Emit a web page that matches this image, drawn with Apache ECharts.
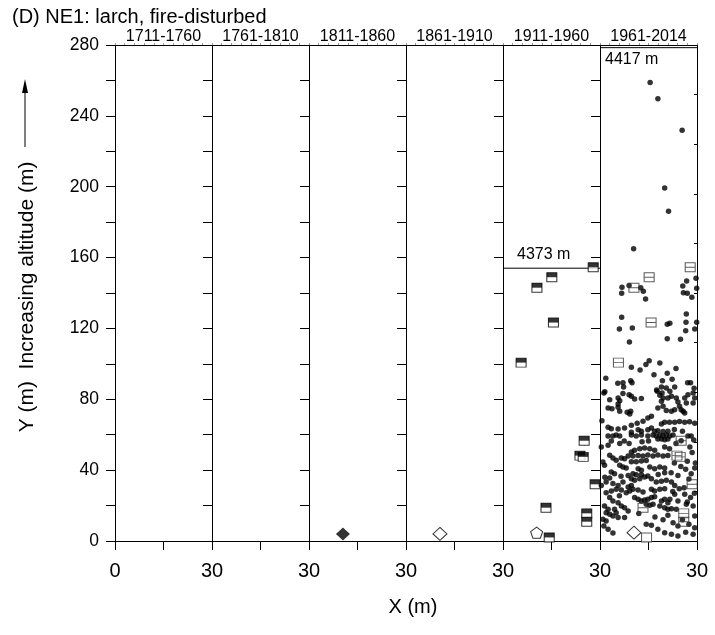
<!DOCTYPE html>
<html><head><meta charset="utf-8">
<script src="https://cdn.jsdelivr.net/npm/echarts@6/dist/echarts.min.js"></script>
<style>html,body{margin:0;padding:0;background:#fff}#c{width:715px;height:635px}</style>
</head><body><div id="c"></div>
<script>
// ---------- data ----------
const periods = ['1711-1760','1761-1810','1811-1860','1861-1910','1911-1960','1961-2014'];
const yTickValues = [0,40,80,120,160,200,240,280];
// 1811-1860
const p3FilledDiamond = [[10.5,4]];
// 1861-1910
const p4OpenDiamond = [[10.5,4]];
// 1911-1960
const p5HalfSquares = [[27.9,154.5],[15.1,148.9],[10.5,143],[15.6,123.3],[5.6,100.7],[25.1,56.6],[23.8,48.2],[24.8,47.5],[28.5,32],[13.3,18.8],[25.9,15.6],[25.9,10.9],[14.3,2]];
const p5Pentagon = [[10.4,4.7]];
const p5Treeline = [[0,154],[30,154]];
const p5TreelineLabel = '4373 m';
// 1961-2014
const p6LinedSquares = [[27.9,154.5],[15.2,148.9],[10.5,143],[15.8,123.3],[5.7,100.7],[25.1,56.6],[23.8,48.2],[24.8,47.5],[28.5,32],[13.3,18.8],[25.9,15.6],[25.9,10.9]];
const p6OpenSquare = [[14.4,2]];
const p6OpenDiamond = [[10.5,4.7]];
const p6Treeline = [[0,278.5],[30,278.5]];
const p6TreelineLabel = '4417 m';
const p6Dots = [
[15.5,258.8],[17.9,249.6],[25.4,231.9],[20.0,199.3],[21.2,186.2],[10.4,165],
[6.8,143.3],[6.7,139.9],[9.0,144.2],[12.6,143],[13.4,141],[14.1,136.6],
[25.6,144],[26.8,146.8],[25.8,140.2],[27.0,139.9],[28.4,137.6],[29.7,148.3],[29.9,142.7],
[6.7,126.3],[6.0,119.7],[10.0,120.3],[9.1,112.4],[20.8,122.3],[21.6,122.9],[20.8,114.2],[24.9,113.9],
[26.7,128.2],[26.6,123.5],[26.5,118.7],[29.3,119.7],[29.9,123.5],
[9.7,98.1],[12.4,96.6],[14.2,99.6],[15.2,101.8],[18.5,100.5],[16.7,93.9],[20.8,94.7],[23.5,97.4],[19.3,90.5],[22.3,91.3],
[1.8,91.9],[5.5,89],[7.1,89.4],[7.3,87],[9.5,90.5],[9.9,89.4],[27.1,89.4],[28.0,89.4],[29.1,86.2],[1.5,84.3],[23.1,87],[19.0,87],[17.5,85.3],
[1.2,83.6],[7.1,83.2],[9.0,82.6],[9.7,81.7],[10.7,80.2],[12.8,80.4],[5.6,80.7],[6.1,79.2],[5.6,77.4],[3.0,79.8],[2.5,75.1],[3.7,74.7],[5.6,75.5],[6.1,73.2],[8.4,72.7],[9.5,73.2],[9.2,71.7],[15.9,70.4],[14.8,69.5],[13.3,67.6],[11.5,66.5],[9.7,65.3],[7.6,63.8],[5.6,63.2],[2.5,64.2],[3.5,63.4],[0.6,67.9],
[17.7,84.5],[18.5,82.3],[19.2,83.6],[20.5,86.4],[21.6,84.5],[22.1,81.7],[21.0,80.7],[19.5,80.7],[19.0,78.9],[23.6,80.7],[24.1,78.5],[24.6,76.1],[25.1,74.1],[26.2,80.7],[26.7,77.9],[27.2,82.6],[28.8,83.6],[29.3,80.7],[28.8,77.9],[23.1,74.1],[22.1,73.2],[20.5,73.6],[19.5,76.1],[17.9,75.1],[25.7,73.2],[26.2,72.3],
[20,67],[21.5,67],[23.1,67],[24.6,67.5],[26.2,67],[27.7,67.3],[29.3,66.5],[19,66],[15.9,63.8],[14.8,62.8],[12.8,61.9],[11.8,62.8],[9.7,61.4],[16.9,62],[17.9,62.3],[19.5,61.8],[21,62],
[2.5,59.3],[4,59.3],[5,59.8],[6.1,59.3],[9.7,59.8],[11.2,59.3],[12.8,59.8],[14.8,59.3],[16.4,59.8],[17.4,59.3],[18.5,59.8],[19.5,59.3],[20.5,59.8],[21.6,59.3],[22.6,59.8],[27.2,59.3],
[17.9,57.6],[19,57.6],[20,57.2],[21,57.6],[0.4,53],[2.5,54],[6.1,55],[28.2,59.3],[25.1,56.6],
[3,48.4],[4,46.9],[5,45.6],[6.6,46.9],[7.6,46.5],
[9.7,50.3],[10.7,51.2],[12.3,52.1],[13.8,52.5],[15.4,52.1],[16.9,51.2],
[8.7,48],[10.2,48],[11.8,48.3],[13.3,48],[14.8,48.5],[16.4,48],[17.9,48.5],[19.5,48],[21,48.3],
[9.7,44.8],[11.2,44.8],[12.8,45.2],[14.3,45.5],[20,53],[21.5,52.1],
[6.1,42.7],[7.1,41.8],[8.1,41.2],[3.5,39],[4.5,38],[1.4,42.7],[0.9,44.6],
[15.4,41.8],[16.9,40.8],[18.5,41.8],[20,41.2],[11.8,40.8],[12.8,39.9],
[8.7,37],[10.2,38],[11.2,37.4],[12.8,37.4],[28.2,38],[29.3,41.2],
[1.9,33.3],[4,32.4],[5.6,31.4],[7.1,33.3],
[9.7,35.2],[10.7,34.3],[12.3,35.2],[13.8,36.1],[14.8,36.7],[15.9,35.2],
[17.4,33.3],[19,33.7],[20.5,34.3],[22.1,33.3],[23.1,31.4],[24.1,37],[0.4,31.4],[9.7,31.4],[8.7,30.5],
[1.9,27.3],[3.5,28.2],[5,29.2],[6.6,28.8],[8.1,27.3],[9.2,28.2],[10.2,29.2],[11.8,28.8],[13.3,27.7],[15.9,29.2],[16.9,28.2],[18.5,29.2],[20,29.5],
[10.7,24.5],[11.8,23.5],[12.8,22.6],[13.8,23.2],[14.8,23.5],[15.9,24.5],[16.9,25],
[14.3,20.7],[15.4,20.2],[16.4,20.7],
[19,22.6],[20,23.5],[21,21.6],[21.6,23.5],[23.1,26.4],[24.1,22.6],[23.6,17.9],
[18.5,19.8],[20,18.8],[21,17.9],[22.1,18.2],[26.2,26.4],
[4,22.6],[5.6,21.6],[6.6,19.8],[7.6,18.8],[8.7,16.9],
[1.4,19.8],[2.5,17.9],[1.9,16],[3,15.1],[4,14.1],[0.9,12.3],[1.9,11.3],[4.5,17.9],[5,16],[5.6,13.2],[7.6,13.2],
[2.5,6.6],[14.3,9.4],[15.9,8.9],[17.9,6.6],[20,4.7],[22.1,3.8],[24.1,2.8],[22.6,10.3],[24.1,8.5],[29.3,7.5],[28.8,3.8],[26.7,20.7],[28.8,19.8],[29.3,14.1],
[29.0,57],[28.5,50],[29.5,44],[27.5,35],[29.2,27],[28,24.5],
[4,4.5],[1.2,8.5],[27,45],[27.8,53],[26.5,40.5],[26,30],[27,22],[25.5,12],[27.5,9.5],[26.5,5],
[12,15.5],[17,13.5],[19.5,12],[21,14.5],[3,24.5],[6,25.5],[22.5,28],[24.5,29.5],[22,38.5],[25,42],[23,44],[1.5,36],[3,35.5],[6.5,36.5],[18,37.5],[20,38.5],[23.5,55],[25.5,62],[23,63],[7.5,56.5],[9,55],[3.5,56.5],[13,56],[15,56.5]
];

// ---------- chart ----------
const FONT = '"Liberation Sans", Arial, Helvetica, sans-serif';
const chart = echarts.init(document.getElementById('c'), null, {renderer:'canvas'});
const grids = [], xAxes = [], yAxes = [], series = [];
const xIdx = [], yIdx = [];
for (let i = 0; i < periods.length; i++) {
  grids.push({left: 115 + 97 * i, top: 45, width: 97, height: 496});
  xIdx.push(xAxes.length);
  xAxes.push({gridIndex:i, type:'value', min:0, max:30, interval:15, position:'bottom',
    axisLine:{show:true, onZero:false, lineStyle:{color:'#000', width:1}},
    axisTick:{show:true, length:9, lineStyle:{color:'#000', width:1}},
    splitLine:{show:false},
    axisLabel:{show:true, fontSize:20, color:'#000', fontFamily:FONT, margin:20, showMinLabel:true, showMaxLabel:true,
      formatter: v => (v === 30 || (i === 0 && v === 0)) ? String(v) : ''}
  });
  xAxes.push({gridIndex:i, type:'value', min:0, max:30, interval:3, position:'top',
    axisLine:{show:true, onZero:false, lineStyle:{color:'#000', width:1}},
    axisTick:{show:true, length:2, lineStyle:{color:'#999', width:1}},
    axisLabel:{show:false}, splitLine:{show:false},
    name: periods[i], nameLocation:'middle', nameGap:0,
    nameTextStyle:{fontSize:16, color:'#000', fontFamily:FONT}
  });
  yIdx.push(yAxes.length);
  yAxes.push({gridIndex:i, type:'value', min:0, max:280, interval:20, position:'left',
    axisLine:{show:true, onZero:false, lineStyle:{color:'#000', width:1}},
    axisTick:{show:true, length:9, lineStyle:{color:'#000', width:1}},
    splitLine:{show:false},
    axisLabel:{show: i === 0, fontSize:17.5, color:'#000', fontFamily:FONT, margin:16,
      formatter: v => yTickValues.includes(v) ? String(v) : ''}
  });
  if (i === periods.length - 1) {
    yAxes.push({gridIndex:i, type:'value', min:0, max:280, interval:28, position:'right',
      axisLine:{show:true, onZero:false, lineStyle:{color:'#000', width:1}},
      axisTick:{show:true, inside:true, length:3, lineStyle:{color:'#000'}},
      axisLabel:{show:false}, splitLine:{show:false}});
  }
}
function sc(i, data, opts) {
  return Object.assign({type:'scatter', xAxisIndex:xIdx[i], yAxisIndex:yIdx[i], data:data, silent:true, animation:false}, opts);
}
const squarePath = 'path://M0,0L10,0L10,9L0,9Z';
const linedSquarePath = 'path://M0,0L10,0L10,9L0,9Z M0,4.5L10,4.5';
const pentagonPath = 'path://M5,0L10,3.8L8.1,9.5L1.9,9.5L0,3.8Z';

series.push(sc(2, p3FilledDiamond, {symbol:'diamond', symbolSize:[14,13], itemStyle:{color:'#000'}}));
series.push(sc(3, p4OpenDiamond, {symbol:'diamond', symbolSize:[14,13], itemStyle:{color:'#fff', borderColor:'#000', borderWidth:1}}));
// 1911-1960
series.push({type:'line', xAxisIndex:xIdx[4], yAxisIndex:yIdx[4], data:p5Treeline.map((d,k)=> k===0 ? {value:d, label:{show:true, formatter:p5TreelineLabel, position:[14,-22], fontSize:16, color:'#000', fontFamily:FONT}} : d),
  symbol:'circle', symbolSize:0.01, showSymbol:true, lineStyle:{color:'#000', width:1}, itemStyle:{color:'#000'}, silent:true, animation:false, z:3});
series.push(sc(4, p5HalfSquares, {symbol:'rect', symbolSize:[10,9], itemStyle:{color:'#fff', borderColor:'#000', borderWidth:1}, z:4}));
series.push(sc(4, p5HalfSquares, {symbol:'rect', symbolSize:[10,4.5], symbolOffset:[0,-2.25], itemStyle:{color:'#000'}, z:5}));
series.push(sc(4, p5Pentagon, {symbol:pentagonPath, symbolSize:[12,11], itemStyle:{color:'#fff', borderColor:'#000', borderWidth:1}}));
// 1961-2014
series.push({type:'line', xAxisIndex:xIdx[5], yAxisIndex:yIdx[5], data:p6Treeline.map((d,k)=> k===0 ? {value:d, label:{show:true, formatter:p6TreelineLabel, position:[5,4], fontSize:16, color:'#000', fontFamily:FONT}} : d),
  symbol:'circle', symbolSize:0.01, showSymbol:true, lineStyle:{color:'#000', width:1}, itemStyle:{color:'#000'}, silent:true, animation:false, z:3});
series.push(sc(5, p6Dots, {symbol:'circle', symbolSize:5.5, itemStyle:{color:'#000'}, z:4}));
series.push(sc(5, p6LinedSquares, {symbol:linedSquarePath, symbolSize:[10,9], itemStyle:{color:'rgba(0,0,0,0)', borderColor:'#333', borderWidth:1}, z:5}));
series.push(sc(5, p6OpenSquare, {symbol:squarePath, symbolSize:[10,9], itemStyle:{color:'#fff', borderColor:'#333', borderWidth:1}, z:5}));
series.push(sc(5, p6OpenDiamond, {symbol:'diamond', symbolSize:[14,13], itemStyle:{color:'#fff', borderColor:'#000', borderWidth:1}, z:5}));

chart.setOption({
  animation:false,
  backgroundColor:'#fff',
  grid: grids, xAxis: xAxes, yAxis: yAxes, series: series,
  graphic: [
    {type:'text', left:12, top:7, style:{text:'(D) NE1: larch, fire-disturbed', fontSize:20, fill:'#000', fontFamily:FONT}},
    {type:'text', x:27, y:297, rotation:Math.PI/2, style:{text:'Y (m)  Increasing altitude (m)', fontSize:21, fill:'#000', fontFamily:FONT, textAlign:'center', textVerticalAlign:'middle'}},
    {type:'line', shape:{x1:25, y1:147, x2:25, y2:90}, style:{stroke:'#000', lineWidth:1}},
    {type:'polygon', shape:{points:[[25,79],[22,93],[28,93]]}, style:{fill:'#000'}},
    {type:'text', x:413, y:607, style:{text:'X (m)', fontSize:20, fill:'#000', fontFamily:FONT, textAlign:'center', textVerticalAlign:'middle'}}
  ]
});
</script>
</body></html>
